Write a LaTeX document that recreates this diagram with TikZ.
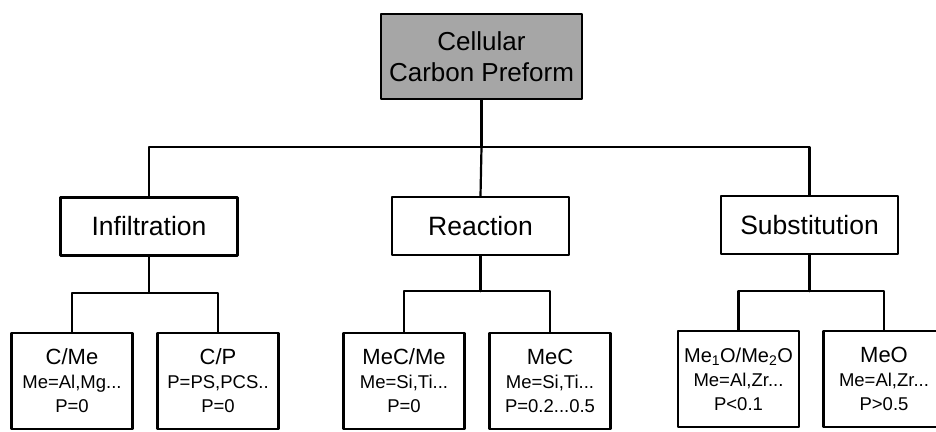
\documentclass[tikz,border=0pt]{standalone}
\usepackage{fontspec}
\setmainfont{Liberation Sans}
\newcommand\leafhead[1]{{\fontsize{22}{27}\selectfont #1}}
\begin{document}
\begin{tikzpicture}[x=1pt,y=-1pt,line join=round,line cap=round]
\tikzset{box/.style={draw,line width=2.4pt,inner sep=0pt,align=center},
  top box/.style={box,fill=black!35,minimum width=201pt,minimum height=85pt,font=\fontsize{26}{31}\selectfont},
  mid box/.style={box,minimum width=177pt,minimum height=58pt,font=\fontsize{26.5}{31}\selectfont},
  leaf box/.style={box,minimum width=121pt,minimum height=96pt,font=\fontsize{18.5}{24}\selectfont},
  link/.style={line width=2.2pt}}
\useasboundingbox (0,0) rectangle (936,431);
% root
\node[top box] (ccp) at (481.5,56.5) {Cellular\\Carbon Preform};
% routes
\node[mid box] (inf) at (149,226.5) {Infiltration};
\node[mid box] (rea) at (480.5,226) {Reaction};
\node[mid box] (sub) at (809.5,225) {Substitution};
% products
\node[leaf box] (cme) at (72,381) {\leafhead{C/Me}\\Me=Al,Mg...\\P=0};
\node[leaf box] (cp) at (218,381) {\leafhead{C/P}\\P=PS,PCS..\\P=0};
\node[leaf box] (mcme) at (404,381) {\leafhead{MeC/Me}\\Me=Si,Ti...\\P=0};
\node[leaf box] (mc) at (550,381) {\leafhead{MeC}\\Me=Si,Ti...\\P=0.2...0.5};
\node[leaf box] (moo) at (738.5,379) {{\fontsize{20}{27}\selectfont Me\textsubscript{1}O/Me\textsubscript{2}O}\\Me=Al,Zr...\\P<0.1};
\node[leaf box] (mo) at (884,379) {\leafhead{MeO}\\Me=Al,Zr...\\P>0.5};
% connectors
\coordinate (bus) at (481.5,147);
\draw[link] (ccp) -- (bus);
\draw[link] (inf.north) |- (bus) -| (sub.north);
\draw[link] (bus) -- (rea.north);
\draw[link] (inf.south) -- ++(0,36) coordinate (infbus);
\draw[link] (cme.north) |- (infbus) -| (cp.north);
\draw[link] (rea.south) -- ++(0,35) coordinate (reabus);
\draw[link] (mcme.north) |- (reabus) -| (mc.north);
\draw[link] (sub.south) -- ++(0,36) coordinate (subbus);
\draw[link] (moo.north) |- (subbus) -| (mo.north);
\end{tikzpicture}
\end{document}
